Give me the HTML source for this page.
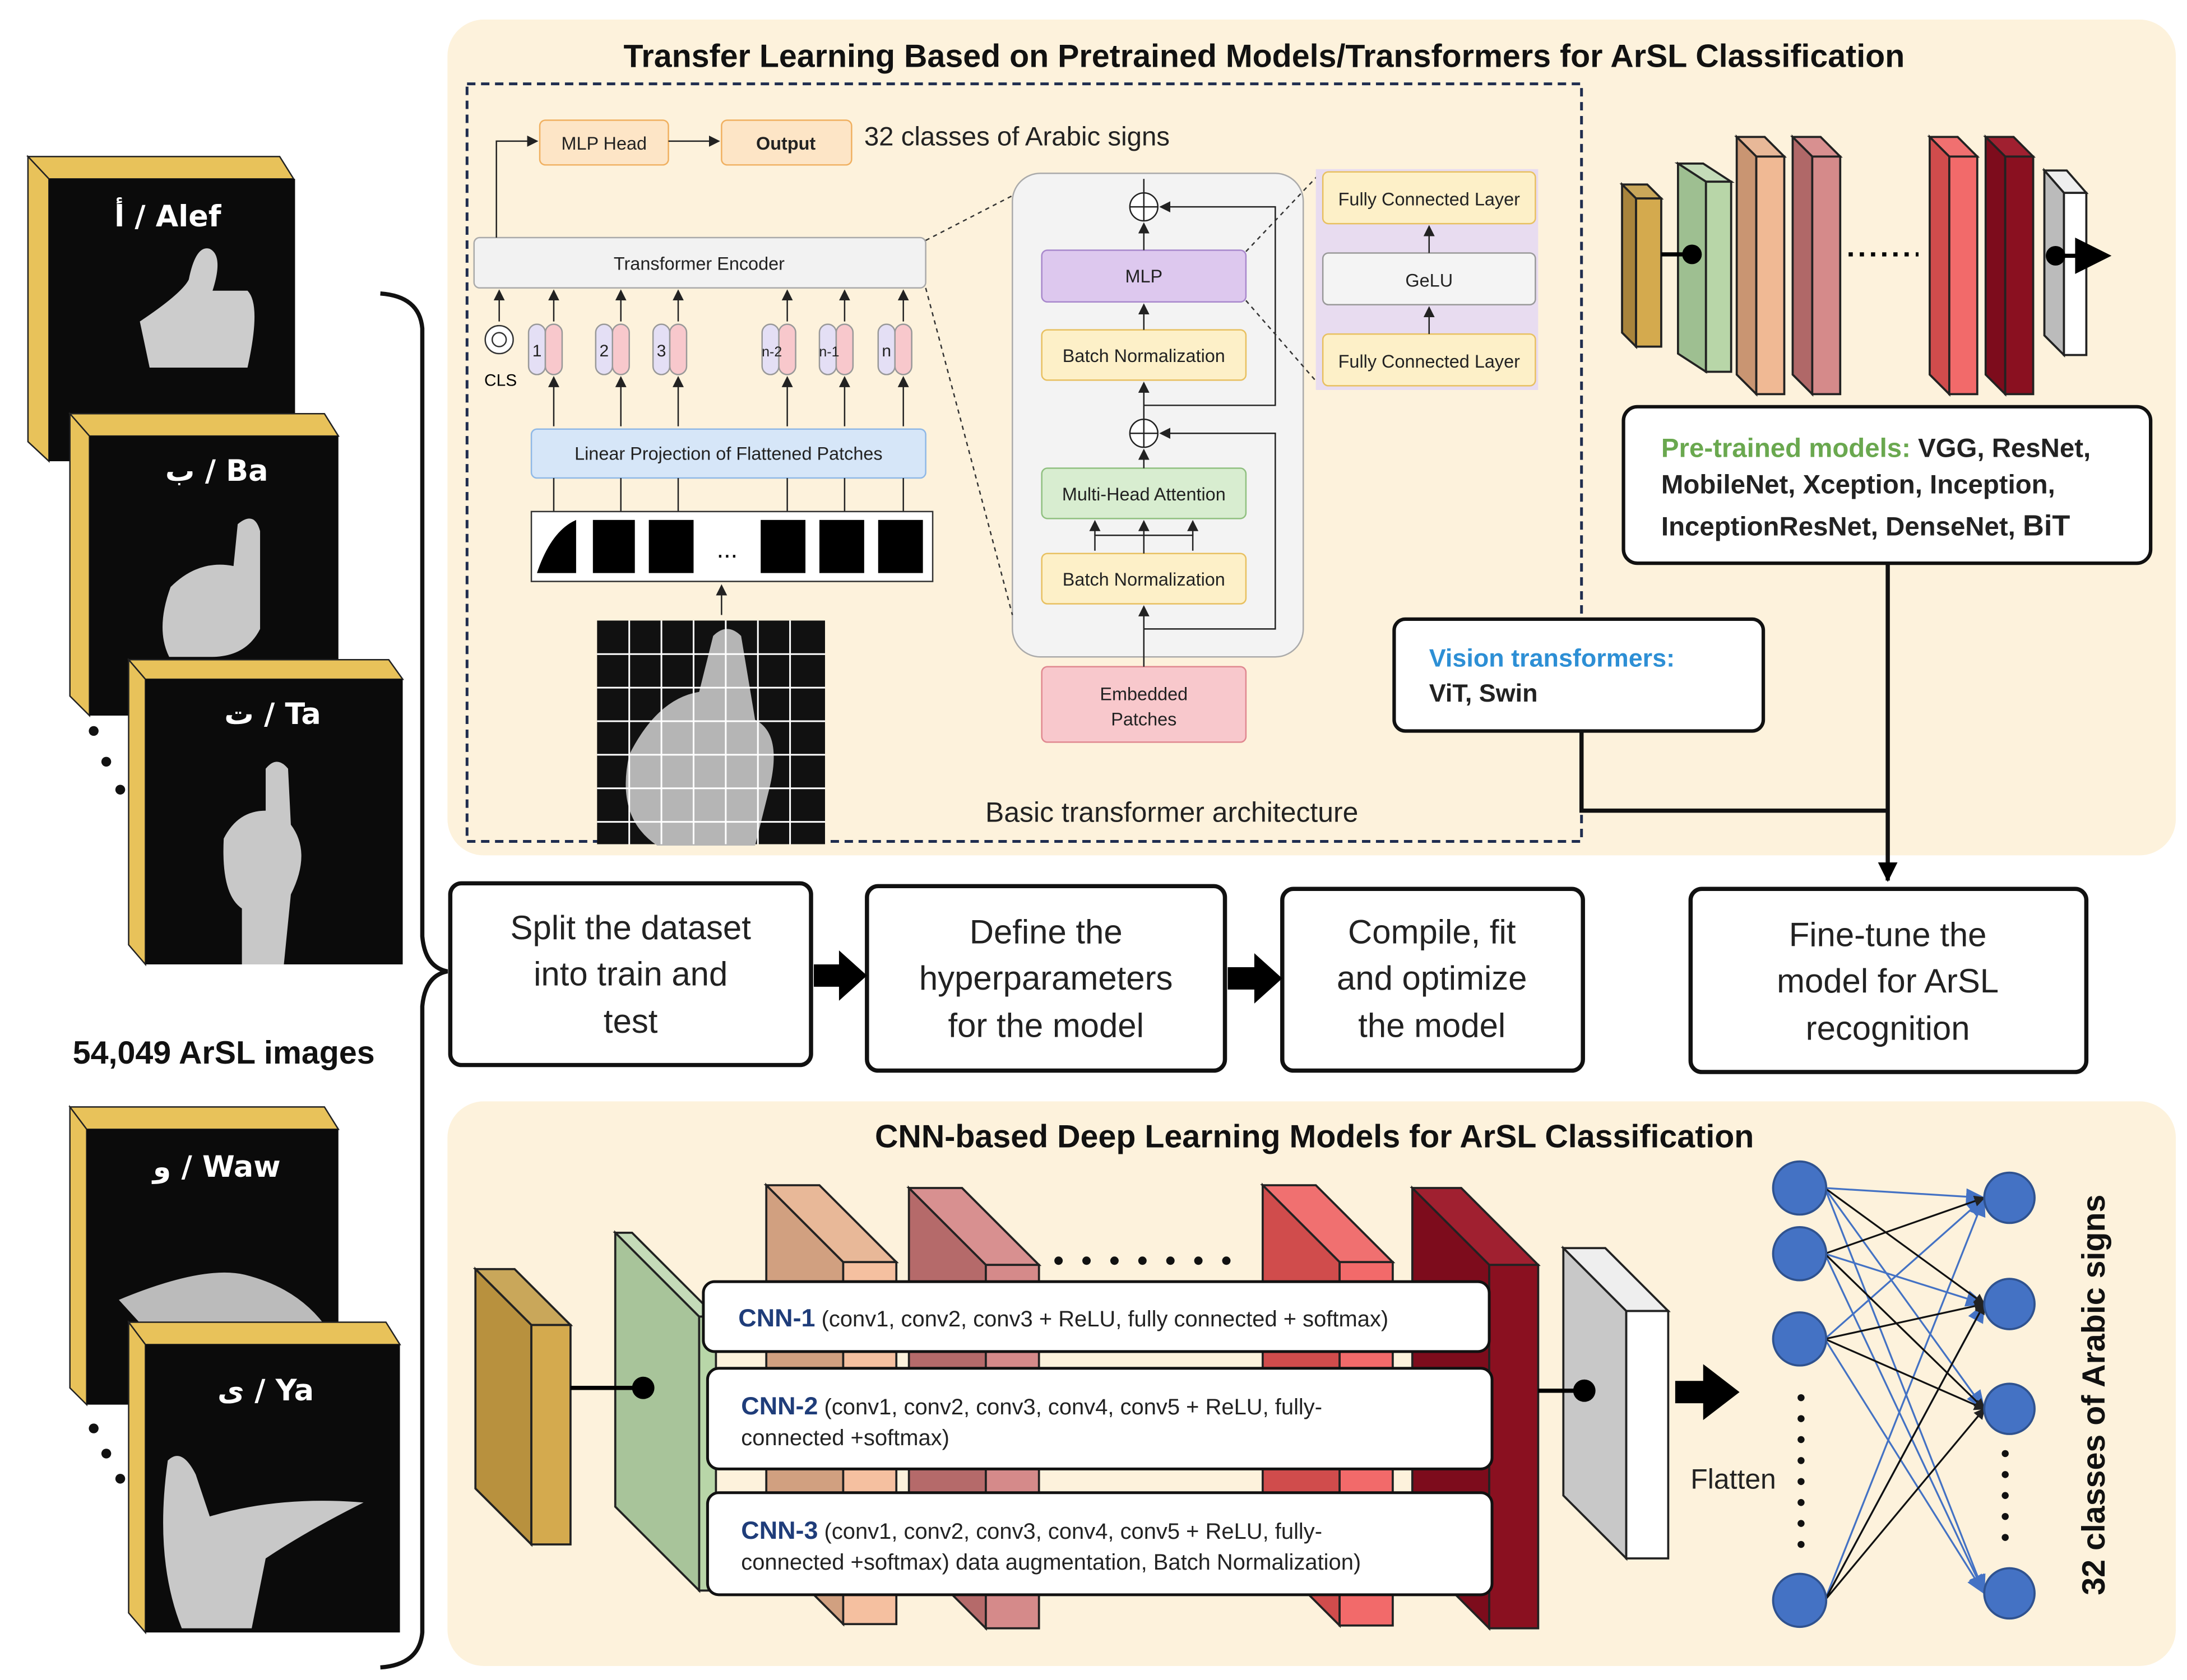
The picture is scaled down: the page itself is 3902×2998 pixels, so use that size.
<!DOCTYPE html>
<html><head><meta charset="utf-8"><style>
html,body{margin:0;padding:0;background:#fff;}
svg{display:block;}
text{font-family:"Liberation Sans","Noto Sans CJK SC",sans-serif;}
.ar{font-family:"DejaVu Sans","Liberation Sans",sans-serif;}
</style></head><body>
<svg width="3902" height="2998" viewBox="0 0 1564 1202" preserveAspectRatio="none" xmlns="http://www.w3.org/2000/svg">
<defs>
<marker id="ah" markerWidth="8" markerHeight="8" refX="7" refY="4" orient="auto" markerUnits="userSpaceOnUse"><path d="M0,0 L8,4 L0,8 z" fill="#222"/></marker>
<marker id="bh" markerWidth="14" markerHeight="14" refX="13" refY="7" orient="auto" markerUnits="userSpaceOnUse"><path d="M0,0 L14,7 L0,14 z" fill="#000"/></marker>
<marker id="blh" markerWidth="14" markerHeight="12" refX="13" refY="6" orient="auto" markerUnits="userSpaceOnUse"><path d="M0,0 L14,6 L0,12 z" fill="#4472c4"/></marker>
</defs>
<rect width="1564" height="1202" fill="#fff"/>

<!-- panels -->
<rect x="320" y="14" width="1236" height="598" rx="26" fill="#fdf2dc"/>
<rect x="320" y="788" width="1236" height="404" rx="26" fill="#fdf2dc"/>
<text x="904" y="48" font-size="23" font-weight="bold" text-anchor="middle" fill="#111">Transfer Learning Based on Pretrained Models/Transformers  for ArSL Classification</text>
<text x="940" y="821" font-size="23" font-weight="bold" text-anchor="middle" fill="#111">CNN-based Deep Learning Models for ArSL Classification</text>
<rect x="334" y="60" width="797" height="542" fill="none" stroke="#1f2d4f" stroke-width="2" stroke-dasharray="6,4"/>

<!-- left cards -->
<g>
 <polygon points="20,112 200,112 210,128 35,128" fill="#e8c25a" stroke="#222" stroke-width="1"/>
 <polygon points="20,112 35,128 35,330 20,316" fill="#e8c25a" stroke="#222"/>
 <rect x="35" y="128" width="176" height="202" fill="#0b0b0b"/>
 <text x="120" y="162" font-size="21" font-weight="bold" fill="#fff" text-anchor="middle" class="ar">أ / Alef</text>
 <path d="M100,230 q30,-20 35,-30 q5,-25 15,-22 q10,5 2,30 l25,0 q10,10 0,55 l-70,0 z" fill="#ccc"/>
</g>
<g>
 <polygon points="50,296 232,296 242,312 64,312" fill="#e8c25a" stroke="#222"/>
 <polygon points="50,296 64,312 64,512 50,498" fill="#e8c25a" stroke="#222"/>
 <rect x="64" y="312" width="178" height="200" fill="#0b0b0b"/>
 <text x="155" y="344" font-size="21" font-weight="bold" fill="#fff" text-anchor="middle" class="ar">ب / Ba</text>
 <path d="M122,420 q20,-20 45,-15 l3,-30 q12,-10 16,5 l0,70 q-10,20 -35,20 l-30,0 q-10,-20 1,-50 z" fill="#c8c8c8"/>
</g>
<g>
 <polygon points="92,472 278,472 288,486 104,486" fill="#e8c25a" stroke="#222"/>
 <polygon points="92,472 104,486 104,690 92,676" fill="#e8c25a" stroke="#222"/>
 <rect x="104" y="486" width="184" height="204" fill="#0b0b0b"/>
 <text x="195" y="518" font-size="21" font-weight="bold" fill="#fff" text-anchor="middle" class="ar">ت / Ta</text>
 <path d="M160,600 q10,-20 30,-20 l0,-30 q8,-10 16,0 l2,40 q15,20 0,50 l-5,50 l-30,0 l0,-40 q-15,-10 -13,-50 z" fill="#c8c8c8"/>
</g>
<g>
 <polygon points="50,792 232,792 242,808 62,808" fill="#e8c25a" stroke="#222"/>
 <polygon points="50,792 62,808 62,1005 50,993" fill="#e8c25a" stroke="#222"/>
 <rect x="62" y="808" width="180" height="197" fill="#0b0b0b"/>
 <text x="155" y="842" font-size="21" font-weight="bold" fill="#fff" text-anchor="middle" class="ar">و / Waw</text>
 <path d="M85,930 q60,-25 90,-18 q40,10 60,40 l-130,0 z" fill="#bbb"/>
</g>
<g>
 <polygon points="92,946 276,946 286,962 104,962" fill="#e8c25a" stroke="#222"/>
 <polygon points="92,946 104,962 104,1168 92,1154" fill="#e8c25a" stroke="#222"/>
 <rect x="104" y="962" width="182" height="206" fill="#0b0b0b"/>
 <text x="190" y="1002" font-size="21" font-weight="bold" fill="#fff" text-anchor="middle" class="ar">ى / Ya</text>
 <path d="M120,1045 q10,-10 20,10 l10,30 q50,-15 110,-10 q-40,20 -70,40 l-10,50 l-50,0 q-20,-50 -10,-120 z" fill="#c8c8c8"/>
</g>
<g fill="#111">
 <circle cx="67" cy="523" r="3.5"/><circle cx="76" cy="545" r="3.5"/><circle cx="86" cy="565" r="3.5"/>
 <circle cx="67" cy="1022" r="3.5"/><circle cx="76" cy="1040" r="3.5"/><circle cx="86" cy="1058" r="3.5"/>
</g>
<text x="160" y="761" font-size="23" font-weight="bold" text-anchor="middle" fill="#111">54,049 ArSL images</text>

<!-- brace -->
<path d="M272,210 q28,2 30,25 L302,670 q2,22 18,25 q-16,3 -18,25 L302,1168 q-2,23 -30,25" fill="none" stroke="#111" stroke-width="3"/>

<!-- process boxes -->
<g stroke="#111" stroke-width="3" fill="#fff">
 <rect x="322" y="632" width="258" height="130" rx="8"/>
 <rect x="620" y="634" width="256" height="132" rx="8"/>
 <rect x="917" y="636" width="215" height="130" rx="8"/>
 <rect x="1209" y="636" width="283" height="131" rx="8"/>
</g>
<g font-size="24" text-anchor="middle" fill="#222">
 <text x="451" y="672">Split the dataset</text><text x="451" y="705">into train and</text><text x="451" y="739">test</text>
 <text x="748" y="675">Define the</text><text x="748" y="708">hyperparameters</text><text x="748" y="742">for the model</text>
 <text x="1024" y="675">Compile, fit</text><text x="1024" y="708">and optimize</text><text x="1024" y="742">the model</text>
 <text x="1350" y="677">Fine-tune the</text><text x="1350" y="710">model for ArSL</text><text x="1350" y="744">recognition</text>
</g>
<polygon points="582,690 600,690 600,680 620,698 600,716 600,706 582,706" fill="#000"/>
<polygon points="878,692 897,692 897,682 917,700 897,718 897,708 878,708" fill="#000"/>

<!-- right top CNN blocks -->
<g stroke="#222" stroke-width="1.5">
 <polygon points="1160,132 1178,132 1188,142 1170,142" fill="#c9a75a"/><polygon points="1160,132 1170,142 1170,248 1160,238" fill="#a8843c"/><rect x="1170" y="142" width="18" height="106" fill="#d4aa4e"/>
 <polygon points="1200,117 1218,117 1238,130 1220,130" fill="#c4dbb8"/><polygon points="1200,117 1220,130 1220,266 1200,253" fill="#9ebf91"/><rect x="1220" y="130" width="18" height="136" fill="#b8d6a8"/>
 <polygon points="1242,98 1262,98 1276,112 1256,112" fill="#e8b898"/><polygon points="1242,98 1256,112 1256,282 1242,268" fill="#c99572"/><rect x="1256" y="112" width="20" height="170" fill="#f0b994"/>
 <polygon points="1282,98 1302,98 1316,112 1296,112" fill="#d89090"/><polygon points="1282,98 1296,112 1296,282 1282,268" fill="#b06868"/><rect x="1296" y="112" width="20" height="170" fill="#d58a8a"/>
 <polygon points="1380,98 1400,98 1414,112 1394,112" fill="#f07070"/><polygon points="1380,98 1394,112 1394,282 1380,268" fill="#d04c4c"/><rect x="1394" y="112" width="20" height="170" fill="#f26a6a"/>
 <polygon points="1420,98 1440,98 1454,112 1434,112" fill="#a02030"/><polygon points="1420,98 1434,112 1434,282 1420,268" fill="#7d0c1c"/><rect x="1434" y="112" width="20" height="170" fill="#8a1020"/>
 <polygon points="1462,122 1478,122 1492,138 1476,138" fill="#eee"/><polygon points="1462,122 1476,138 1476,254 1462,240" fill="#bbb"/><rect x="1476" y="138" width="16" height="116" fill="#fff"/>
</g>
<line x1="1188" y1="182" x2="1210" y2="182" stroke="#000" stroke-width="3"/><circle cx="1210" cy="182" r="7" fill="#000"/>
<line x1="1322" y1="182" x2="1372" y2="182" stroke="#000" stroke-width="3" stroke-dasharray="3,5"/>
<circle cx="1470" cy="183" r="7" fill="#000"/><line x1="1470" y1="183" x2="1490" y2="183" stroke="#000" stroke-width="3"/>
<polygon points="1484,170 1510,183 1484,196" fill="#000"/>

<rect x="1161" y="291" width="377" height="112" rx="10" fill="#fff" stroke="#111" stroke-width="2.5"/>
<text x="1188" y="327" font-size="19" font-weight="bold" fill="#222"><tspan fill="#6aa84f">Pre-trained models: </tspan>VGG, ResNet,</text>
<text x="1188" y="353" font-size="19" font-weight="bold" fill="#222">MobileNet, Xception, Inception,</text>
<text x="1188" y="383" font-size="19" font-weight="bold" fill="#222">InceptionResNet, DenseNet, <tspan font-size="21">BiT</tspan></text>
<rect x="997" y="443" width="264" height="80" rx="8" fill="#fff" stroke="#111" stroke-width="2.5"/>
<text x="1022" y="477" font-size="18" font-weight="bold" fill="#2d8fd5">Vision transformers:</text>
<text x="1022" y="502" font-size="18" font-weight="bold" fill="#222">ViT, Swin</text>
<path d="M1350,403 L1350,630" stroke="#111" stroke-width="3" fill="none" marker-end="url(#bh)"/>
<path d="M1131,523 L1131,580 L1350,580" stroke="#111" stroke-width="3" fill="none"/>

<!-- transformer diagram -->
<g font-size="13" fill="#222" text-anchor="middle">
 <rect x="386" y="86" width="92" height="32" rx="4" fill="#fde5c6" stroke="#f0b060"/><text x="432" y="107">MLP Head</text>
 <rect x="516" y="86" width="93" height="32" rx="4" fill="#fde5c6" stroke="#f0b060"/><text x="562" y="107" font-weight="bold">Output</text>
 <rect x="339" y="170" width="323" height="36" rx="4" fill="#f2f2f2" stroke="#aaa"/><text x="500" y="193">Transformer Encoder</text>
 <rect x="380" y="307" width="282" height="35" rx="4" fill="#d6e6f8" stroke="#8fb8e6"/><text x="521" y="329">Linear Projection of Flattened Patches</text>
</g>
<text x="618" y="104" font-size="19" fill="#222">32 classes of Arabic signs</text>
<path d="M355,170 L355,101 L384,101" stroke="#222" fill="none" marker-end="url(#ah)"/>
<line x1="478" y1="101" x2="514" y2="101" stroke="#222" marker-end="url(#ah)"/>
<!-- tokens -->
<circle cx="357" cy="243" r="10" fill="#fff" stroke="#333"/><circle cx="357" cy="243" r="5" fill="none" stroke="#333"/>
<text x="358" y="276" font-size="12" text-anchor="middle">CLS</text>
<g font-size="12" text-anchor="middle" fill="#222">
 <g><rect x="378" y="232" width="12" height="36" rx="6" fill="#e4dff5" stroke="#999"/><rect x="390" y="232" width="12" height="36" rx="6" fill="#f8c8cc" stroke="#999"/><text x="384" y="255">1</text></g>
 <g><rect x="426" y="232" width="12" height="36" rx="6" fill="#e4dff5" stroke="#999"/><rect x="438" y="232" width="12" height="36" rx="6" fill="#f8c8cc" stroke="#999"/><text x="432" y="255">2</text></g>
 <g><rect x="467" y="232" width="12" height="36" rx="6" fill="#e4dff5" stroke="#999"/><rect x="479" y="232" width="12" height="36" rx="6" fill="#f8c8cc" stroke="#999"/><text x="473" y="255">3</text></g>
 <g><rect x="545" y="232" width="12" height="36" rx="6" fill="#e4dff5" stroke="#999"/><rect x="557" y="232" width="12" height="36" rx="6" fill="#f8c8cc" stroke="#999"/><text x="552" y="255" font-size="10">n-2</text></g>
 <g><rect x="586" y="232" width="12" height="36" rx="6" fill="#e4dff5" stroke="#999"/><rect x="598" y="232" width="12" height="36" rx="6" fill="#f8c8cc" stroke="#999"/><text x="593" y="255" font-size="10">n-1</text></g>
 <g><rect x="628" y="232" width="12" height="36" rx="6" fill="#e4dff5" stroke="#999"/><rect x="640" y="232" width="12" height="36" rx="6" fill="#f8c8cc" stroke="#999"/><text x="634" y="255">n</text></g>
</g>
<g stroke="#222" marker-end="url(#ah)">
 <line x1="357" y1="230" x2="357" y2="208"/><line x1="396" y1="230" x2="396" y2="208"/><line x1="444" y1="230" x2="444" y2="208"/><line x1="485" y1="230" x2="485" y2="208"/><line x1="563" y1="230" x2="563" y2="208"/><line x1="604" y1="230" x2="604" y2="208"/><line x1="646" y1="230" x2="646" y2="208"/>
 <line x1="396" y1="305" x2="396" y2="270"/><line x1="444" y1="305" x2="444" y2="270"/><line x1="485" y1="305" x2="485" y2="270"/><line x1="563" y1="305" x2="563" y2="270"/><line x1="604" y1="305" x2="604" y2="270"/><line x1="646" y1="305" x2="646" y2="270"/>
 <line x1="516" y1="440" x2="516" y2="419"/>
</g>
<g stroke="#222"><line x1="396" y1="342" x2="396" y2="366"/><line x1="444" y1="342" x2="444" y2="366"/><line x1="485" y1="342" x2="485" y2="366"/><line x1="563" y1="342" x2="563" y2="366"/><line x1="604" y1="342" x2="604" y2="366"/><line x1="646" y1="342" x2="646" y2="366"/></g>
<rect x="380" y="366" width="287" height="50" fill="#fff" stroke="#333"/>
<g fill="#000">
 <path d="M384,410 q10,-30 28,-38 l0,38 z"/><rect x="424" y="372" width="30" height="38"/><rect x="464" y="372" width="32" height="38"/>
 <rect x="544" y="372" width="32" height="38"/><rect x="586" y="372" width="32" height="38"/><rect x="628" y="372" width="32" height="38"/>
</g>
<text x="520" y="399" font-size="18" text-anchor="middle">...</text>
<!-- hand grid image -->
<rect x="427" y="444" width="163" height="160" fill="#111"/>
<path d="M450,540 q20,-40 50,-45 l10,-40 q10,-10 20,0 l10,60 q20,10 10,50 l-10,40 l-70,0 q-30,-20 -20,-65 z" fill="#b5b5b5"/>
<g stroke="#fff" stroke-width="1.2">
 <line x1="427" y1="468" x2="590" y2="468"/><line x1="427" y1="492" x2="590" y2="492"/><line x1="427" y1="516" x2="590" y2="516"/><line x1="427" y1="540" x2="590" y2="540"/><line x1="427" y1="564" x2="590" y2="564"/><line x1="427" y1="588" x2="590" y2="588"/>
 <line x1="450" y1="444" x2="450" y2="604"/><line x1="473" y1="444" x2="473" y2="604"/><line x1="496" y1="444" x2="496" y2="604"/><line x1="519" y1="444" x2="519" y2="604"/><line x1="542" y1="444" x2="542" y2="604"/><line x1="565" y1="444" x2="565" y2="604"/>
</g>
<text x="838" y="588" font-size="20" text-anchor="middle" fill="#222">Basic transformer architecture</text>

<!-- encoder block -->
<rect x="724" y="124" width="208" height="346" rx="20" fill="#f3f3f3" stroke="#aaa"/>
<line x1="662" y1="172" x2="724" y2="140" stroke="#333" stroke-dasharray="3,3"/>
<line x1="662" y1="206" x2="724" y2="440" stroke="#333" stroke-dasharray="3,3"/>
<g font-size="13" text-anchor="middle" fill="#222">
 <rect x="745" y="179" width="146" height="37" rx="4" fill="#ddc8ee" stroke="#a888cc"/><text x="818" y="202">MLP</text>
 <rect x="745" y="236" width="146" height="36" rx="4" fill="#fdf0c8" stroke="#e8c060"/><text x="818" y="259">Batch Normalization</text>
 <rect x="745" y="335" width="146" height="36" rx="4" fill="#d8edd0" stroke="#90c080"/><text x="818" y="358">Multi-Head Attention</text>
 <rect x="745" y="396" width="146" height="36" rx="4" fill="#fdf0c8" stroke="#e8c060"/><text x="818" y="419">Batch Normalization</text>
 <rect x="745" y="477" width="146" height="54" rx="4" fill="#f8c8cc" stroke="#e08890"/><text x="818" y="501">Embedded</text><text x="818" y="519">Patches</text>
</g>
<circle cx="818" cy="148" r="10" fill="#fff" stroke="#222"/><line x1="808" y1="148" x2="828" y2="148" stroke="#222"/><line x1="818" y1="138" x2="818" y2="158" stroke="#222"/>
<circle cx="818" cy="310" r="10" fill="#fff" stroke="#222"/><line x1="808" y1="310" x2="828" y2="310" stroke="#222"/><line x1="818" y1="300" x2="818" y2="320" stroke="#222"/>
<g stroke="#222" fill="none">
 <line x1="818" y1="477" x2="818" y2="434" marker-end="url(#ah)"/>
 <line x1="818" y1="396" x2="818" y2="373" marker-end="url(#ah)"/>
 <path d="M783,394 L783,383 L853,383 L853,394"/><line x1="783" y1="383" x2="783" y2="373" marker-end="url(#ah)"/><line x1="853" y1="383" x2="853" y2="373" marker-end="url(#ah)"/>
 <line x1="818" y1="335" x2="818" y2="322" marker-end="url(#ah)"/>
 <line x1="818" y1="300" x2="818" y2="274" marker-end="url(#ah)"/>
 <line x1="818" y1="236" x2="818" y2="218" marker-end="url(#ah)"/>
 <line x1="818" y1="179" x2="818" y2="160" marker-end="url(#ah)"/>
 <line x1="818" y1="138" x2="818" y2="128" />
 <path d="M818,450 L912,450 L912,310 L830,310" marker-end="url(#ah)"/>
 <path d="M818,290 L912,290 L912,148 L830,148" marker-end="url(#ah)"/>
</g>
<line x1="891" y1="180" x2="944" y2="124" stroke="#333" stroke-dasharray="3,3"/>
<line x1="891" y1="215" x2="944" y2="276" stroke="#333" stroke-dasharray="3,3"/>
<rect x="941" y="121" width="159" height="158" fill="#e8dcf0"/>
<g font-size="13" text-anchor="middle" fill="#222">
 <rect x="946" y="123" width="152" height="37" rx="4" fill="#fdf0c8" stroke="#e8c060"/><text x="1022" y="147">Fully Connected Layer</text>
 <rect x="946" y="181" width="152" height="37" rx="4" fill="#f4f4f4" stroke="#999"/><text x="1022" y="205">GeLU</text>
 <rect x="946" y="239" width="152" height="37" rx="4" fill="#fdf0c8" stroke="#e8c060"/><text x="1022" y="263">Fully Connected Layer</text>
</g>
<g stroke="#222"><line x1="1022" y1="239" x2="1022" y2="220" marker-end="url(#ah)"/><line x1="1022" y1="181" x2="1022" y2="162" marker-end="url(#ah)"/></g>

<!-- bottom CNN blocks -->
<g stroke="#222" stroke-width="1.5">
 <polygon points="340,908 368,908 408,948 380,948" fill="#c9a75a"/><polygon points="340,908 380,948 380,1105 340,1065" fill="#b8913e"/><rect x="380" y="948" width="28" height="157" fill="#d4aa4e"/>
 <polygon points="440,882 452,882 512,942 500,942" fill="#c4dbb8"/><polygon points="440,882 500,942 500,1138 440,1078" fill="#a8c49a"/><rect x="500" y="942" width="12" height="196" fill="#b8d6a8"/>
 <polygon points="548,848 586,848 641,903 603,903" fill="#e8b898"/><polygon points="548,848 603,903 603,1162 548,1107" fill="#d1a080"/><rect x="603" y="903" width="38" height="259" fill="#f5c0a0"/>
 <polygon points="650,850 688,850 743,905 705,905" fill="#d89090"/><polygon points="650,850 705,905 705,1165 650,1110" fill="#b56a6a"/><rect x="705" y="905" width="38" height="260" fill="#d58a8a"/>
 <polygon points="903,848 941,848 996,903 958,903" fill="#f07070"/><polygon points="903,848 958,903 958,1163 903,1108" fill="#d04c4c"/><rect x="958" y="903" width="38" height="260" fill="#f26a6a"/>
 <polygon points="1010,850 1045,850 1100,905 1065,905" fill="#a02030"/><polygon points="1010,850 1065,905 1065,1165 1010,1110" fill="#7d0c1c"/><rect x="1065" y="905" width="35" height="260" fill="#8a1020"/>
 <polygon points="1118,893 1148,893 1193,938 1163,938" fill="#eee"/><polygon points="1118,893 1163,938 1163,1115 1118,1070" fill="#c8c8c8"/><rect x="1163" y="938" width="30" height="177" fill="#fff"/>
</g>
<g fill="#111"><circle cx="757" cy="902" r="3"/><circle cx="777" cy="902" r="3"/><circle cx="797" cy="902" r="3"/><circle cx="817" cy="902" r="3"/><circle cx="837" cy="902" r="3"/><circle cx="857" cy="902" r="3"/><circle cx="877" cy="902" r="3"/></g>
<line x1="408" y1="993" x2="460" y2="993" stroke="#000" stroke-width="3"/><circle cx="460" cy="993" r="8" fill="#000"/>
<line x1="1100" y1="995" x2="1133" y2="995" stroke="#000" stroke-width="3"/><circle cx="1133" cy="995" r="8" fill="#000"/>
<polygon points="1198,988 1218,988 1218,976 1244,996 1218,1016 1218,1004 1198,1004" fill="#000"/>
<text x="1209" y="1065" font-size="20" fill="#222">Flatten</text>

<g stroke="#111" stroke-width="2" fill="#fff">
 <rect x="503" y="917" width="562" height="50" rx="8"/>
 <rect x="506" y="979" width="561" height="72" rx="8"/>
 <rect x="506" y="1068" width="561" height="73" rx="8"/>
</g>
<g font-size="16" fill="#222">
 <text x="528" y="949"><tspan fill="#1f3d7a" font-size="18" font-weight="bold">CNN-1</tspan> (conv1, conv2, conv3 + ReLU, fully connected + softmax)</text>
 <text x="530" y="1012"><tspan fill="#1f3d7a" font-size="18" font-weight="bold">CNN-2</tspan> (conv1, conv2, conv3, conv4, conv5 + ReLU, fully-</text>
 <text x="530" y="1034">connected +softmax)</text>
 <text x="530" y="1101"><tspan fill="#1f3d7a" font-size="18" font-weight="bold">CNN-3</tspan> (conv1, conv2, conv3, conv4, conv5 + ReLU, fully-</text>
 <text x="530" y="1123">connected +softmax) data augmentation, Batch Normalization)</text>
</g>

<!-- neural net -->
<g stroke-width="1.3">
 <g stroke="#4472c4" marker-end="url(#blh)">
  <line x1="1305" y1="850" x2="1419" y2="857"/><line x1="1305" y1="850" x2="1419" y2="1008"/><line x1="1305" y1="850" x2="1419" y2="1140"/>
  <line x1="1305" y1="897" x2="1419" y2="933"/><line x1="1305" y1="897" x2="1419" y2="1140"/>
  <line x1="1305" y1="958" x2="1419" y2="857"/><line x1="1305" y1="958" x2="1419" y2="1140"/>
  <line x1="1305" y1="1145" x2="1419" y2="857"/><line x1="1305" y1="1145" x2="1419" y2="933"/>
 </g>
 <g stroke="#111" marker-end="url(#ah)">
  <line x1="1305" y1="850" x2="1419" y2="933"/><line x1="1305" y1="897" x2="1419" y2="857"/><line x1="1305" y1="897" x2="1419" y2="1008"/>
  <line x1="1305" y1="958" x2="1419" y2="933"/><line x1="1305" y1="958" x2="1419" y2="1008"/>
  <line x1="1305" y1="1145" x2="1419" y2="1008"/><line x1="1305" y1="1145" x2="1419" y2="933"/>
 </g>
</g>
<g fill="#4472c4" stroke="#2f528f" stroke-width="1.5">
 <circle cx="1287" cy="850" r="19"/><circle cx="1287" cy="897" r="19"/><circle cx="1287" cy="958" r="19"/><circle cx="1287" cy="1145" r="19"/>
 <circle cx="1437" cy="857" r="18"/><circle cx="1437" cy="933" r="18"/><circle cx="1437" cy="1008" r="18"/><circle cx="1437" cy="1140" r="18"/>
</g>
<g fill="#111"><circle cx="1288" cy="1000" r="2.5"/><circle cx="1288" cy="1015" r="2.5"/><circle cx="1288" cy="1030" r="2.5"/><circle cx="1288" cy="1045" r="2.5"/><circle cx="1288" cy="1060" r="2.5"/><circle cx="1288" cy="1075" r="2.5"/><circle cx="1288" cy="1090" r="2.5"/><circle cx="1288" cy="1105" r="2.5"/>
<circle cx="1434" cy="1040" r="2.5"/><circle cx="1434" cy="1055" r="2.5"/><circle cx="1434" cy="1070" r="2.5"/><circle cx="1434" cy="1085" r="2.5"/><circle cx="1434" cy="1100" r="2.5"/></g>
<text x="0" y="0" transform="translate(1505,998) rotate(-90)" font-size="23" font-weight="bold" text-anchor="middle" fill="#111">32 classes of Arabic signs</text>
</svg>
</body></html>
